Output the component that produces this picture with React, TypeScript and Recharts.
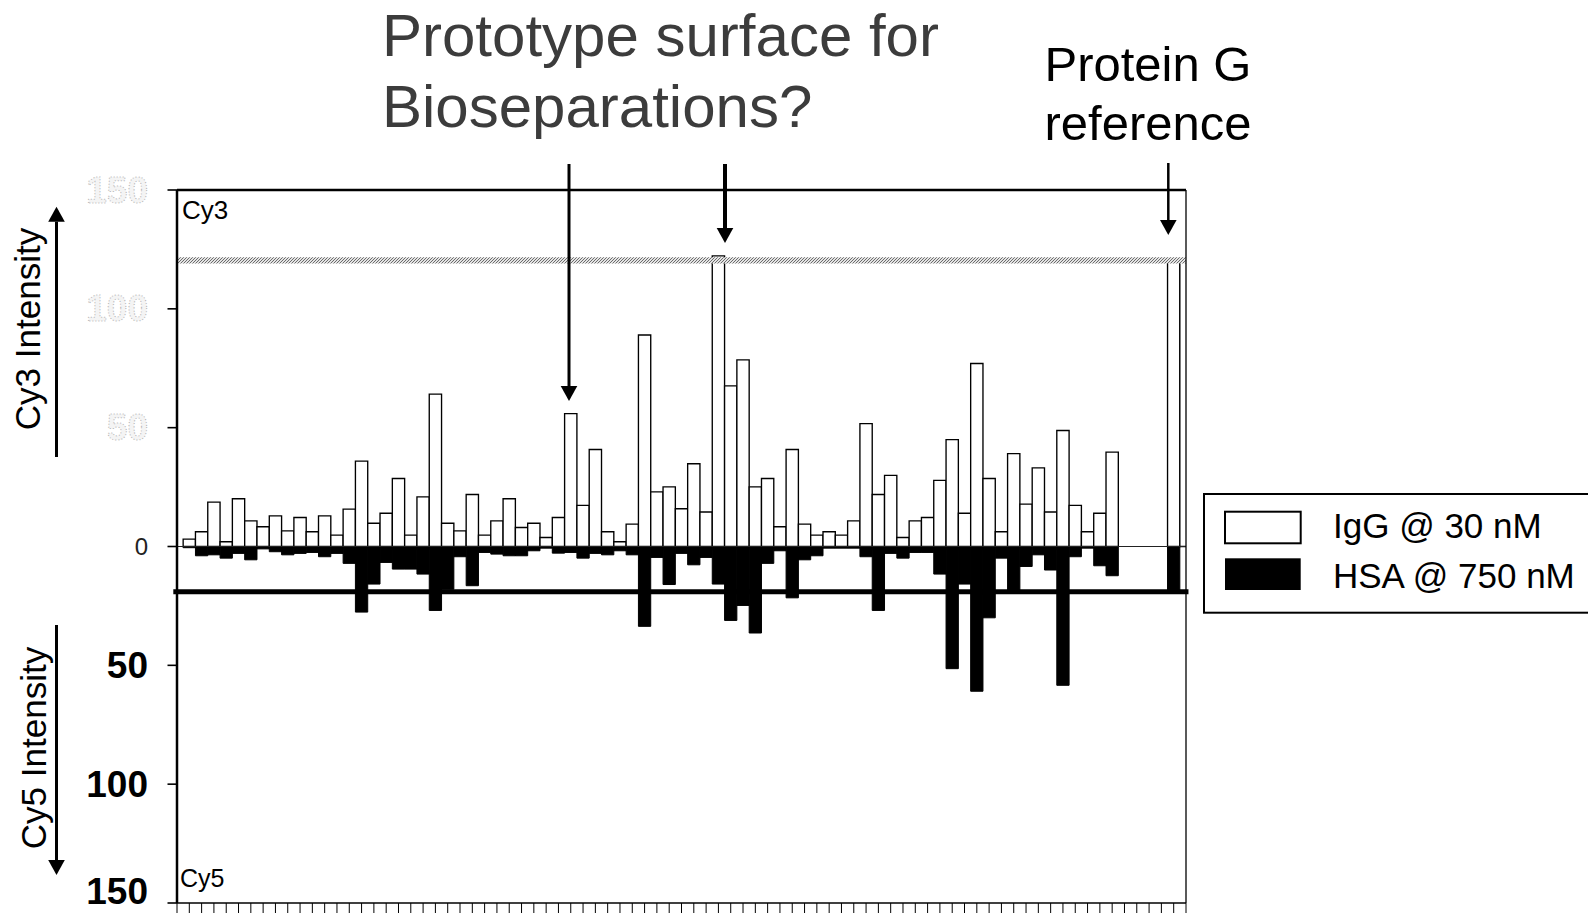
import React from 'react';
import { BarChart, Bar, XAxis, YAxis, ReferenceLine, ReferenceArea, Legend } from 'recharts';

// IgG @ 30 nM (Cy3, plotted upward); wells 1..82
const iggValues = [
  3.1, 6.2, 18.7, 2, 20.1, 10.8, 8.3, 12.9, 6.6, 12.2,
  6.2, 12.9, 4.8, 15.7, 35.9, 9.8, 14, 28.6, 4.8, 20.9,
  64.1, 9.8, 6.6, 21.9, 4.8, 10.8, 20.1, 8, 9.8, 3.8,
  12.2, 55.9, 17.3, 40.8, 6.2, 2, 9.4, 89, 23, 25.1,
  15.9, 34.8, 14.5, 122.3, 67.6, 78.5, 25.1, 28.6, 8.3, 40.8,
  9.4, 4.8, 6.2, 4.8, 10.8, 51.7, 21.9, 29.9, 3.8, 10.8,
  12.2, 27.8, 45, 14, 77, 28.6, 6.2, 39.1, 17.8, 33.1,
  14.5, 48.8, 17.3, 6.2, 14, 39.7, 0, 0, 0, 0,
  121, 121,
];

// HSA @ 750 nM (Cy5, plotted downward)
const hsaValues = [
  0.5, 3.9, 3.5, 4.9, 2.9, 5.6, 1, 2.2, 3.5, 2.9,
  2.5, 4.3, 2.9, 7.1, 27.6, 15.8, 6.7, 9.5, 9.5, 11.6,
  26.9, 18, 4.3, 16.5, 2.5, 3.2, 3.9, 3.9, 1.8, 0.7,
  2.8, 2.5, 4.9, 2.9, 3.5, 1.8, 3.5, 33.6, 4.6, 16,
  2.9, 7.7, 4.6, 15.8, 31.1, 24.8, 36.4, 7.1, 1.8, 21.6,
  5.6, 3.9, 0.7, 0.7, 0.7, 4.3, 26.9, 2.9, 4.9, 2.5,
  2.5, 11.6, 51.4, 15.8, 60.9, 30, 4.9, 18.5, 8.4, 3.5,
  9.9, 58.4, 4.3, 0.7, 8.1, 12.3, 0, 0, 0, 0,
  19, 0,
];

const seriesNames = ['IgG @ 30 nM', 'HSA @ 750 nM'];
const yTicks = [-150, -100, -50, 0, 50, 100, 150];
const xTicks = [0, ...iggValues.map((_, i) => i + 1)];
const breakBand = [119.1, 121.7];
const cy5Threshold = 19;

const data = iggValues.map((v, i) => ({ well: i + 1, igg: v, hsa: -hsaValues[i] }));

const FONT = '"Liberation Sans", Arial, sans-serif';

const YTick = (props: any) => {
  const { y, payload } = props;
  const v = payload.value;
  if (v === 0) {
    return (
      <text x={148} y={y + 8.5} textAnchor="end" fontSize={24} fill="#222" fontFamily={FONT}>0</text>
    );
  }
  if (v > 0) {
    return (
      <text x={148} y={y + 12.5} textAnchor="end" fontSize={37} fontWeight="bold" fontFamily={FONT}
        fill="#f4f4f4" stroke="#b4b4b4" strokeWidth={1} strokeDasharray="1 2">{v}</text>
    );
  }
  return (
    <text x={148} y={v === -150 ? y + 0.5 : y + 12.5} textAnchor="end" fontSize={37} fontWeight="bold"
      fill="#000" fontFamily={FONT}>{-v}</text>
  );
};

const LegendBox = () => (
  <svg width={386} height={122} style={{ display: 'block' }}>
    <rect x={1} y={1} width={500} height={118.7} fill="#fff" stroke="#000" strokeWidth={2} />
    <rect x={22} y={18.7} width={75.7} height={31.6} fill="#fff" stroke="#000" strokeWidth={2} />
    <rect x={22} y={65.3} width={75.7} height={31.7} fill="#000" />
    <text x={130} y={45.3} fontSize={35} fontFamily={FONT} fill="#000">{seriesNames[0]}</text>
    <text x={130} y={95.3} fontSize={35} fontFamily={FONT} fill="#000">{seriesNames[1]}</text>
  </svg>
);

const Arrow = ({ x, y1, y2, w }: { x: number; y1: number; y2: number; w: number }) => {
  const down = y2 > y1;
  const hl = 15;
  const hw = 8.3;
  const base = down ? y2 - hl : y2 + hl;
  return (
    <g>
      <line x1={x} y1={y1} x2={x} y2={base} stroke="#000" strokeWidth={w} />
      <polygon points={`${x - hw},${base} ${x + hw},${base} ${x},${y2}`} fill="#000" />
    </g>
  );
};

export default function App() {
  return (
    <div style={{ position: 'absolute', left: 0, top: 0, width: 1588, height: 913, overflow: 'hidden', background: '#fff', fontFamily: FONT }}>
      <BarChart
        width={1588}
        height={913}
        data={data}
        stackOffset="sign"
        margin={{ top: 190, right: 402, bottom: 0, left: 0 }}
      >
        <defs>
          <pattern id="hatch" width="3" height="3" patternUnits="userSpaceOnUse">
            <rect width="3" height="3" fill="#e4e4e4" />
            <path d="M0,3 L3,0 M-1,1 L1,-1 M2,4 L4,2" stroke="#5e5e5e" strokeWidth="0.9" />
          </pattern>
        </defs>
        <XAxis
          dataKey="well"
          type="number"
          domain={[0, 82]}
          ticks={xTicks}
          interval={0}
          allowDataOverflow
          height={10}
          tickSize={10}
          tickFormatter={() => ''}
          axisLine={{ stroke: '#000', strokeWidth: 1.6 }}
          tickLine={{ stroke: '#000', strokeWidth: 1 }}
        />
        <YAxis
          type="number"
          domain={[-150, 150]}
          ticks={yTicks}
          interval={0}
          width={177}
          tickSize={9.5}
          tick={<YTick />}
          axisLine={{ stroke: '#000', strokeWidth: 2.5 }}
          tickLine={{ stroke: '#000', strokeWidth: 1.6 }}
        />
        <Legend
          layout="horizontal"
          verticalAlign="middle"
          align="center"
          content={() => <LegendBox />}
          wrapperStyle={{ left: 1203, top: 493, width: 386, height: 122 }}
        />
        <Bar dataKey="igg" name={seriesNames[0]} stackId="s" barSize={12.3} fill="#fff" stroke="#000" strokeWidth={1.35} isAnimationActive={false} />
        <Bar dataKey="hsa" name={seriesNames[1]} stackId="s" barSize={12.3} fill="#000" stroke="#000" strokeWidth={1} isAnimationActive={false} />
        <ReferenceLine y={0} stroke="#222" strokeWidth={1.2} />
        <ReferenceLine y={150} stroke="#000" strokeWidth={2.5} />
        <ReferenceLine x={82} stroke="#000" strokeWidth={1.3} />
        <ReferenceArea y1={breakBand[0]} y2={breakBand[1]} x1={0} x2={82} fill="url(#hatch)" fillOpacity={1} stroke="none" ifOverflow="visible" zIndex={350} />
        <ReferenceLine
          segment={[{ x: -0.3, y: -cy5Threshold }, { x: 82.2, y: -cy5Threshold }]}
          stroke="#000"
          strokeWidth={5}
          ifOverflow="visible"
        />
      </BarChart>

      <svg width={1588} height={913} style={{ position: 'absolute', left: 0, top: 0, pointerEvents: 'none' }}>
        <g fontFamily={FONT}>
          <text x={382} y={56} fontSize={60} fill="#3c3c3c">Prototype surface for</text>
          <text x={382} y={127} fontSize={60} fill="#3c3c3c">Bioseparations?</text>
          <text x={1148} y={81} fontSize={49} fill="#000" textAnchor="middle">Protein G</text>
          <text x={1148} y={140} fontSize={49} fill="#000" textAnchor="middle">reference</text>

          <text x={182} y={219} fontSize={26} fill="#000">Cy3</text>
          <text x={180} y={886.5} fontSize={25} fill="#000">Cy5</text>

          <text x={40} y={329} fontSize={35} fill="#000" textAnchor="middle" transform="rotate(-90 40 329)">Cy3 Intensity</text>
          <text x={46} y={748} fontSize={35} fill="#000" textAnchor="middle" transform="rotate(-90 46 748)">Cy5 Intensity</text>
        </g>
        <Arrow x={56.5} y1={457} y2={206.7} w={3} />
        <Arrow x={56.5} y1={625} y2={875} w={3} />
        <Arrow x={569} y1={164} y2={401} w={3} />
        <Arrow x={725} y1={164} y2={243} w={4} />
        <Arrow x={1168.3} y1={163} y2={235} w={2.5} />
      </svg>
    </div>
  );
}
